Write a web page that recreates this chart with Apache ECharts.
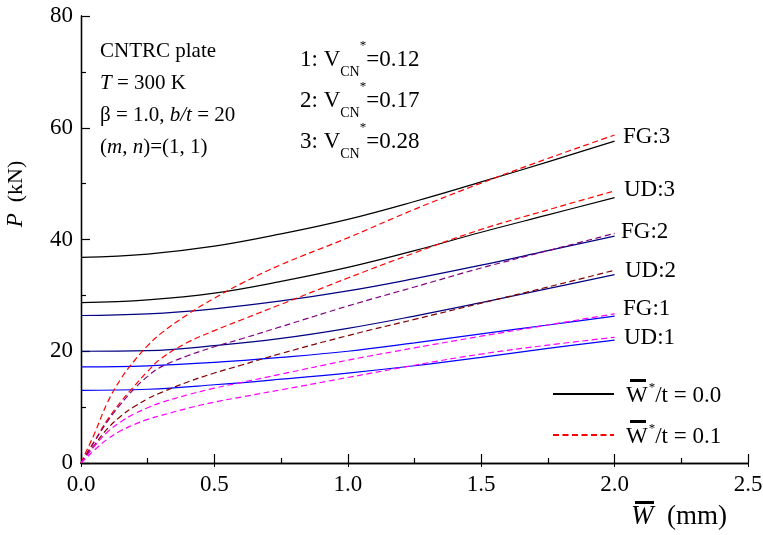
<!DOCTYPE html>
<html>
<head>
<meta charset="utf-8">
<script src="https://cdn.jsdelivr.net/npm/echarts@6/dist/echarts.min.js"></script>
<style>
  html, body { margin: 0; padding: 0; background: #fff; }
  #chart { width: 763px; height: 535px; }
</style>
</head>
<body>
<div id="chart"></div>
<script>
// deflection W (mm) sample points
var xSolid = [0, 0.25, 0.5, 0.75, 1.0, 1.25, 1.5, 1.75, 2.0];
var xDash = [0, 0.02, 0.05, 0.1, 0.15, 0.2, 0.25, 0.3, 0.4, 0.5, 0.6, 0.75, 1.0, 1.25, 1.5, 1.75, 2.0];

// perfect plate, W*/t = 0.0
var fg3Solid = [36.8, 37.4, 38.8, 41.0, 43.6, 46.8, 50.3, 53.9, 57.6];
var ud3Solid = [28.7, 29.2, 30.4, 32.5, 35.0, 38.0, 41.3, 44.4, 47.5];
var fg2Solid = [26.4, 26.7, 27.6, 29.0, 30.8, 33.0, 35.4, 38.0, 40.6];
var ud2Solid = [20.0, 20.1, 21.0, 22.3, 24.1, 26.3, 28.7, 31.2, 33.7];
var fg1Solid = [17.2, 17.4, 18.0, 18.9, 20.0, 21.5, 23.1, 24.7, 26.3];
var ud1Solid = [13.0, 13.2, 14.0, 15.0, 16.1, 17.4, 18.9, 20.5, 22.0];

// imperfect plate, W*/t = 0.1
var fg3Dash = [0, 2.1, 5.2, 10.9, 15.1, 18.3, 21.0, 23.2, 26.6, 29.5, 32.1, 35.5, 40.3, 45.4, 50.1, 54.5, 58.7];
var ud3Dash = [0, 1.6, 3.9, 7.8, 11.0, 13.8, 16.4, 18.7, 21.6, 23.7, 25.6, 28.4, 33.1, 37.6, 41.8, 45.3, 48.7];
var fg2Dash = [0, 1.5, 3.8, 7.5, 10.6, 13.3, 15.5, 17.2, 19.2, 20.8, 22.2, 24.4, 28.1, 31.5, 34.9, 38.0, 41.1];
var ud2Dash = [0, 1.3, 3.2, 6.2, 8.4, 10.1, 11.5, 12.6, 14.5, 16.1, 17.5, 19.6, 22.8, 25.7, 28.6, 31.5, 34.5];
var fg1Dash = [0, 1.2, 3.0, 5.6, 7.4, 8.8, 9.9, 10.8, 12.2, 13.4, 14.4, 15.9, 18.4, 20.6, 22.7, 24.7, 26.7];
var ud1Dash = [0, 0.9, 2.3, 4.3, 5.8, 6.9, 7.8, 8.5, 9.8, 10.9, 11.8, 13.1, 15.3, 17.5, 19.5, 21.1, 22.5];

var FONT = 'Liberation Serif';

function pairs(xs, ys) {
    return xs.map(function (x, i) { return [x, ys[i]]; });
}

function curve(name, xs, ys, color, dashed) {
    return {
        name: name,
        type: 'line',
        data: pairs(xs, ys),
        smooth: 0.4,
        symbol: 'none',
        lineStyle: {
            color: color,
            width: 1.2,
            type: dashed ? [6, 3.5] : 'solid'
        },
        itemStyle: { color: color }
    };
}

var chart = echarts.init(document.getElementById('chart'));

var legendText = function (name) {
    return name == 'w0' ? '{w|W}{s|*}{t|/t = 0.0}' : '{w|W}{s|*}{t|/t = 0.1}';
};

// V_CN* line, subscript and star as rich text
var vcnRich = {
    b: { font: '14px ' + FONT, verticalAlign: 'bottom', lineHeight: 30, padding: [0, 0, -4, 0] },
    a: { font: '13px ' + FONT, verticalAlign: 'top', lineHeight: 30, padding: [-6, 0, 0, 0] }
};

function label(txt, x, y) {
    return { type: 'text', left: x, top: y, style: { text: txt, font: '23px ' + FONT, fill: '#000' } };
}

option = {
    animation: false,
    backgroundColor: '#fff',
    grid: { left: 81, right: 15, top: 16, bottom: 72, containLabel: false, outerBoundsMode: 'none' },
    legend: {
        data: ['w0', 'w1'],
        orient: 'vertical',
        left: 547,
        top: 376,
        itemWidth: 61,
        itemHeight: 14,
        itemGap: 15,
        itemStyle: { opacity: 0 },
        formatter: legendText,
        textStyle: {
            fontFamily: FONT,
            fontSize: 23,
            color: '#000',
            padding: [0, 0, 0, 7],
            rich: {
                w: { fontFamily: FONT, fontSize: 23, color: '#000', lineHeight: 26, verticalAlign: 'bottom' },
                s: { fontFamily: FONT, fontSize: 13, color: '#000', lineHeight: 26, verticalAlign: 'top', padding: [0, 0, 0, 1] },
                t: { fontFamily: FONT, fontSize: 23, color: '#000', lineHeight: 26, verticalAlign: 'bottom' }
            }
        }
    },
    xAxis: [
        {
            type: 'value',
            min: 0, max: 2.5, interval: 0.5,
            axisLine: { lineStyle: { color: '#000', width: 1.3 } },
            axisTick: { inside: true, length: 9, lineStyle: { color: '#000', width: 1.2 } },
            minorTick: { show: true, splitNumber: 2, length: 5, lineStyle: { color: '#000', width: 1.2 } },
            splitLine: { show: false },
            axisLabel: {
                fontFamily: FONT, fontSize: 23, color: '#000', margin: 10,
                formatter: function (v) { return v.toFixed(1); }
            }
        },
        {
            type: 'value', position: 'top',
            min: 0, max: 2.5, interval: 0.5,
            axisLine: { show: true, lineStyle: { color: '#000', width: 1.3 } },
            axisTick: { inside: true, length: 4, lineStyle: { color: '#000' } },
            splitLine: { show: false },
            axisLabel: { show: false }
        }
    ],
    yAxis: [
        {
            type: 'value',
            min: 0, max: 80, interval: 20,
            axisLine: { show: true, lineStyle: { color: '#000', width: 1.3 } },
            axisTick: { inside: true, length: 9, lineStyle: { color: '#000', width: 1.2 } },
            minorTick: { show: true, splitNumber: 2, length: 5, lineStyle: { color: '#000', width: 1.2 } },
            splitLine: { show: false },
            axisLabel: { fontFamily: FONT, fontSize: 23, color: '#000', margin: 8 }
        },
        {
            type: 'value', position: 'right',
            min: 0, max: 80, interval: 10,
            axisLine: { show: true, lineStyle: { color: '#000', width: 1.3 } },
            axisTick: { show: true, inside: false, length: 3, lineStyle: { color: '#000' } },
            splitLine: { show: false },
            axisLabel: { show: false }
        }
    ],
    series: [
        curve('w0', xSolid, fg3Solid, '#000000', false),
        curve('w0', xSolid, ud3Solid, '#000000', false),
        curve('w0', xSolid, fg2Solid, '#000080', false),
        curve('w0', xSolid, ud2Solid, '#000080', false),
        curve('w0', xSolid, fg1Solid, '#0000ff', false),
        curve('w0', xSolid, ud1Solid, '#0000ff', false),
        curve('w1', xDash, fg3Dash, '#ff0000', true),
        curve('w1', xDash, ud3Dash, '#ff0000', true),
        curve('w1', xDash, fg2Dash, '#800080', true),
        curve('w1', xDash, ud2Dash, '#800000', true),
        curve('w1', xDash, fg1Dash, '#ff00ff', true),
        curve('w1', xDash, ud1Dash, '#ff00ff', true)
    ],
    graphic: [
        // y axis title
        { type: 'text', x: 16, y: 194, rotation: Math.PI / 2,
          style: { text: '{i|P}  (kN)', font: '22px ' + FONT, fill: '#000', align: 'center', verticalAlign: 'middle',
                   rich: { i: { font: 'italic 23px ' + FONT } } } },
        // left note block
        { type: 'text', left: 100, top: 41, style: { text: 'CNTRC plate', font: '21px ' + FONT, fill: '#000' } },
        { type: 'text', left: 100, top: 73, style: { text: '{i|T} = 300 K', fill: '#000',
            rich: { i: { font: 'italic 21px ' + FONT } }, font: '21px ' + FONT } },
        { type: 'text', left: 100, top: 105, style: { text: 'β = 1.0, {i|b/t} = 20', fill: '#000',
            rich: { i: { font: 'italic 21px ' + FONT } }, font: '21px ' + FONT } },
        { type: 'text', left: 100, top: 137, style: { text: '({i|m}, {i|n})=(1, 1)', fill: '#000',
            rich: { i: { font: 'italic 21px ' + FONT } }, font: '21px ' + FONT } },
        // volume fraction block
        { type: 'text', left: 300, top: 39, style: { text: '1: V{b|CN}{a|*}=0.12', fill: '#000', font: '23px ' + FONT, lineHeight: 30, rich: vcnRich } },
        { type: 'text', left: 300, top: 80, style: { text: '2: V{b|CN}{a|*}=0.17', fill: '#000', font: '23px ' + FONT, lineHeight: 30, rich: vcnRich } },
        { type: 'text', left: 300, top: 121, style: { text: '3: V{b|CN}{a|*}=0.28', fill: '#000', font: '23px ' + FONT, lineHeight: 30, rich: vcnRich } },
        // curve labels
        label('FG:3', 623, 125),
        label('UD:3', 624, 178),
        label('FG:2', 621, 220),
        label('UD:2', 625, 259),
        label('FG:1', 623, 297),
        label('UD:1', 624, 326),
        // x axis title
        { type: 'text', left: 631, top: 503, style: { text: '{i|W}  (mm)', fill: '#000', font: '27px ' + FONT,
            rich: { i: { font: 'italic 27px ' + FONT } } } },
        { type: 'rect', shape: { x: 635, y: 501, width: 19, height: 3 }, style: { fill: '#000' } },
        // overbars in legend
        { type: 'rect', shape: { x: 630, y: 379, width: 16, height: 3 }, style: { fill: '#000' } },
        { type: 'rect', shape: { x: 630, y: 420, width: 16, height: 3 }, style: { fill: '#000' } }
    ]
};

chart.setOption(option);
</script>
</body>
</html>
